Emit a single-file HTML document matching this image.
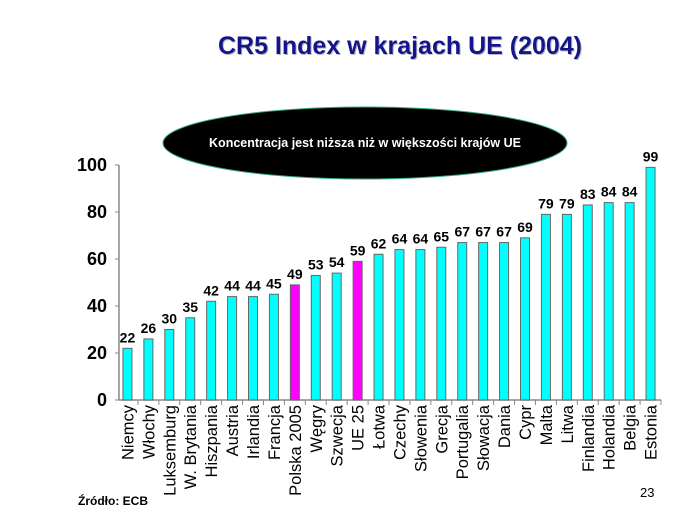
<!DOCTYPE html>
<html><head><meta charset="utf-8"><style>
body{margin:0;background:#fff;}
svg{display:block;font-family:"Liberation Sans",sans-serif;}
</style></head><body>
<svg width="700" height="525">
<text x="401" y="55" text-anchor="middle" font-size="25" font-weight="bold" fill="#bbb">CR5 Index w krajach UE (2004)</text>
<text x="400" y="54" text-anchor="middle" font-size="25" font-weight="bold" fill="#14148c">CR5 Index w krajach UE (2004)</text>
<ellipse cx="365" cy="143" rx="202" ry="36" fill="#000" stroke="#3a7" stroke-width="1"/>
<text x="365" y="147" text-anchor="middle" font-size="12.5" font-weight="bold" fill="#fff">Koncentracja jest niższa niż w większości krajów UE</text>
<g id="plot"></g>
<text x="78" y="505" font-size="12" font-weight="bold">Źródło: ECB</text>
<text x="640" y="497" font-size="13">23</text>
</svg>
<script>
const categories=["Niemcy","Włochy","Luksemburg","W. Brytania","Hiszpania","Austria","Irlandia","Francja","Polska 2005","Węgry","Szwecja","UE 25","Łotwa","Czechy","Słowenia","Grecja","Portugalia","Słowacja","Dania","Cypr","Malta","Litwa","Finlandia","Holandia","Belgia","Estonia"];
const values=[22,26,30,35,42,44,44,45,49,53,54,59,62,64,64,65,67,67,67,69,79,79,83,84,84,99];
const highlighted=["Polska 2005","UE 25"];
const yTicks=[0,20,40,60,80,100];
</script>
<script>
const NS="http://www.w3.org/2000/svg";
const g=document.getElementById('plot');
const x0=117,x1=661,yb=400,yt=165;
const band=(x1-x0)/categories.length;
const X=i=>x0+band*(i+0.5);
const Y=v=>yb-(v/100)*(yb-yt);
function mk(t,a){const e=document.createElementNS(NS,t);for(const k in a)e.setAttribute(k,a[k]);g.appendChild(e);return e;}
let ax=mk('line',{x1:x0+2,y1:yt,x2:x0+2,y2:yb,stroke:'#888','stroke-width':1.5});


let bx=mk('line',{x1:x0+2,y1:yb,x2:x1,y2:yb,stroke:'#888','stroke-width':1.5});


yTicks.forEach(v=>{
 mk('line',{x1:x0-2,y1:Y(v),x2:x0+2,y2:Y(v),stroke:'#888'});
 const t=mk('text',{x:x0-10,y:Y(v)+6,'text-anchor':'end','font-size':18,'font-weight':'bold'});
 t.textContent=v;
 
 
});
categories.forEach((c,i)=>{
 mk('line',{x1:x0+band*(i+1),y1:yb,x2:x0+band*(i+1),y2:yb+5,stroke:'#888'});
 const v=values[i];
 const r=mk('rect',{x:X(i)-4.5,y:Y(v),width:9,height:yb-Y(v),fill:highlighted.includes(c)?'#ff00ff':'#00ffff',stroke:'#666','stroke-width':1});
 
 
 const l=mk('text',{x:X(i),y:Y(v)-6,'text-anchor':'middle','font-size':14,'font-weight':'bold'});
 l.textContent=v;
 
 
 const c2=mk('text',{x:0,y:0,'text-anchor':'end','font-size':16.5,transform:`translate(${X(i)+6},405) rotate(-90)`});
 c2.textContent=c;
 
 
});
</script>
</body></html>
